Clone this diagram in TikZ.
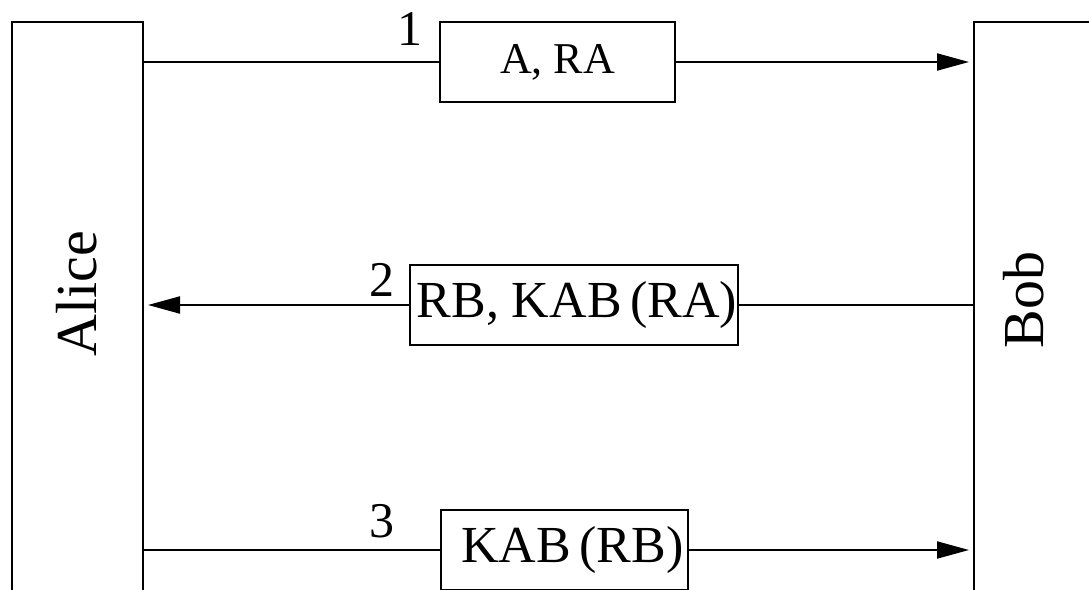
\documentclass[tikz,border=0pt]{standalone}
\usepackage{fontspec}
\setmainfont{Liberation Serif}
\usetikzlibrary{arrows.meta}
\begin{document}
\begin{tikzpicture}[x=1pt,y=1pt,
  party/.style={draw,line width=2pt,minimum width=131pt,minimum height=640pt,inner sep=0pt,anchor=north},
  msg/.style={draw,line width=1.8pt,minimum height=80pt,inner sep=0pt},
  num/.style={inner sep=0pt,font=\fontsize{50}{50}\selectfont},
  conn/.style={line width=2pt},
  arr/.style={line width=2pt,-{Triangle[length=32pt,width=17pt]},shorten >=4pt}]
\clip (0,0) rectangle (1089,-589);
\fill[white] (0,0) rectangle (1089,-589);
% parties
\node[party] (alice) at (77.5,-21) {};
\node[party,minimum width=260pt] (bob) at (1104,-21) {};
\node[rotate=90,inner sep=0pt,font=\fontsize{58}{58}\selectfont] (alicetext) at (77,-294) {Alice};
\node[rotate=90,inner sep=0pt,font=\fontsize{58}{58}\selectfont] (bobtext) at (1024,-300) {Bob};
% messages
\node[msg,minimum width=235pt,font=\fontsize{44}{44}\selectfont] (m1) at (557.5,-62) {A, RA};
\node[msg,minimum width=328pt,font=\fontsize{52}{52}\selectfont] (m2) at (574,-305) {\hspace*{6pt}RB, KAB\,(RA)};
\node[msg,minimum width=247pt,font=\fontsize{52}{52}\selectfont] (m3) at (564.5,-550) {\hspace*{16pt}KAB\,(RB)};
% numbers
\node[num] (n1) at (410,-29) {1};
\node[num] (n2) at (382,-280) {2};
\node[num] (n3) at (382,-521) {3};
% connectors
\draw[conn] (m1.west -| alice.east) -- (m1.west);
\draw[arr] (m1.east) -- (m1.east -| bob.west);
\draw[conn] (m2.east) -- (m2.east -| bob.west);
\draw[arr] (m2.west) -- (m2.west -| alice.east);
\draw[conn] (m3.west -| alice.east) -- (m3.west);
\draw[arr] (m3.east) -- (m3.east -| bob.west);
\end{tikzpicture}
\end{document}
